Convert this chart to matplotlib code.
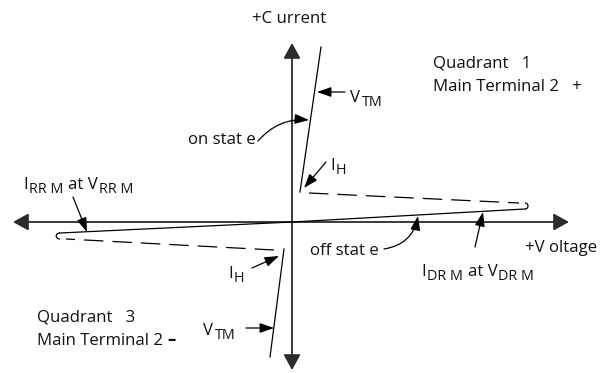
import numpy as np
import matplotlib
matplotlib.use('Agg')
from matplotlib import pyplot as plt
from matplotlib.patches import FancyArrowPatch, PathPatch
from matplotlib.path import Path

''' matplotlib config '''
plt.rcParams['font.family'] = ['Open Sans', 'DejaVu Sans']
plt.rcParams['lines.scale_dashes'] = False

# axis extents (V, I), origin at crossing
v_axis = [-279, 277]
i_axis = [-148, 179]

# on-state branches
on_q1_v = [8, 29]
on_q1_i = [30, 175]
on_q3_v = [-8, -22]
on_q3_i = [-27, -135]

# off-state (solid) line through origin, ends at hairpins
off_v = [-232, 0, 233]
off_i = [-11, 0, 13]

# holding-current dashed return lines
dash_q1_v = [17, 227]
dash_q1_i = [29, 19]
dash_q3_v = [-18, -226]
dash_q3_i = [-28, -17]

# hairpin turns (end of solid, tip, start of dashed)
pin_q1 = [(233, 13), (237, 13), (237, 19), (233, 19)]
pin_q3 = [(-232, -11), (-237, -11), (-237, -17), (-232, -17)]

# annotation arrows: (tail, tip, rad)
arrows = [
  ((53, 130), (25, 130), 0.0),      # V_TM q1
  ((-34, 81), (17, 102), -0.25),    # on state
  ((34, 60), (12, 34), 0.0),        # I_H q1
  ((-219, 25), (-205, -10), 0.0),   # I_RRM
  ((92, -27), (126, 6), 0.35),      # off state
  ((183, -25), (191, 10), 0.0),     # I_DRM
  ((-40, -46), (-13, -34), 0.0),    # I_H q3
  ((-46, -106), (-18, -106), 0.0),  # V_TM q3
]

# labels: (v, i, ha, parts) ; part = (text, kind, gap after) kind n=normal s=sub b=bold
labels = [
  (-3, 199, 'center', [('+C urrent', 'n', 0)]),
  (141, 154, 'left', [('Quadrant   1', 'n', 0)]),
  (141, 131, 'left', [('Main Terminal 2   +', 'n', 0)]),
  (58, 120, 'left', [('V', 'n', 2), ('TM', 's', 0)]),
  (-36, 78, 'right', [('on stat e', 'n', 0)]),
  (38, 52, 'left', [('I', 'n', 1), ('H', 's', 0)]),
  (-269, 33, 'left', [('I', 'n', 1), ('RR M', 's', 5), ('at V', 'n', 1), ('RR M', 's', 0)]),
  (233, -30, 'left', [('+V oltage', 'n', 0)]),
  (18, -33, 'left', [('off stat e', 'n', 0)]),
  (129, -54, 'left', [('I', 'n', 1), ('DR M', 's', 5), ('at V', 'n', 1), ('DR M', 's', 0)]),
  (-64, -56, 'left', [('I', 'n', 1), ('H', 's', 0)]),
  (-255, -100, 'left', [('Quadrant   3', 'n', 0)]),
  (-255, -123, 'left', [('Main Terminal 2', 'n', 4), ('\u2013', 'b', 0)]),
  (-89, -113, 'left', [('V', 'n', 2), ('TM', 's', 0)]),
]

fs = 12.1
fig = plt.figure(figsize=(6.11, 3.73), dpi=100)
ax = fig.add_axes([0, 0, 1, 1])
ax.set_xlim(-292, 319)
ax.set_ylim(-151, 222)
ax.axis('off')
rend = fig.canvas.get_renderer()

axcol = '#2b2b2b'
lw = 0.9

# axes with arrowheads
for p0, p1 in [((v_axis[0], 0), (v_axis[1], 0)), ((0, i_axis[0]), (0, i_axis[1]))]:
  a = FancyArrowPatch(p0, p1, arrowstyle='<|-|>,head_length=9.4,head_width=5.2',
                      mutation_scale=1, lw=1.3, color=axcol, shrinkA=0, shrinkB=0)
  ax.add_patch(a)

ax.plot(on_q1_v, on_q1_i, color='k', lw=lw)
ax.plot(on_q3_v, on_q3_i, color='k', lw=lw)
ax.plot(off_v, off_i, color='k', lw=lw)
ax.plot(dash_q1_v, dash_q1_i, color='k', lw=lw, dashes=(14, 6.5))
ax.plot(dash_q3_v, dash_q3_i, color='k', lw=lw, dashes=(14, 6.5))

for pin in [pin_q1, pin_q3]:
  path = Path(pin, [Path.MOVETO, Path.CURVE4, Path.CURVE4, Path.CURVE4])
  ax.add_patch(PathPatch(path, fill=False, lw=lw, color='k'))

for tail, tip, rad in arrows:
  a = FancyArrowPatch(tail, tip, arrowstyle='-|>,head_length=8.6,head_width=3.0',
                      connectionstyle=f'arc3,rad={rad}', mutation_scale=1,
                      lw=lw, color='k', shrinkA=0, shrinkB=0)
  ax.add_patch(a)

def rich(x, y, ha, parts):
  # one data unit == one pixel here
  objs = []
  cx = x
  for s, kind, gap in parts:
    size = fs * 0.86 if kind == 's' else fs
    dy = -4 if kind == 's' else 0
    t = ax.text(cx, y + dy, s, fontsize=size, ha='left', va='baseline',
                fontweight='bold' if kind == 'b' else 'normal', color='#111111')
    cx += t.get_window_extent(rend).width + gap
    objs.append(t)
  total = cx - x
  shift = {'left': 0, 'center': total / 2, 'right': total}[ha]
  for t in objs:
    px, py = t.get_position()
    t.set_position((px - shift, py))

for v, i, ha, parts in labels:
  rich(v, i, ha, parts)

fig.savefig('out.png', dpi=100)
